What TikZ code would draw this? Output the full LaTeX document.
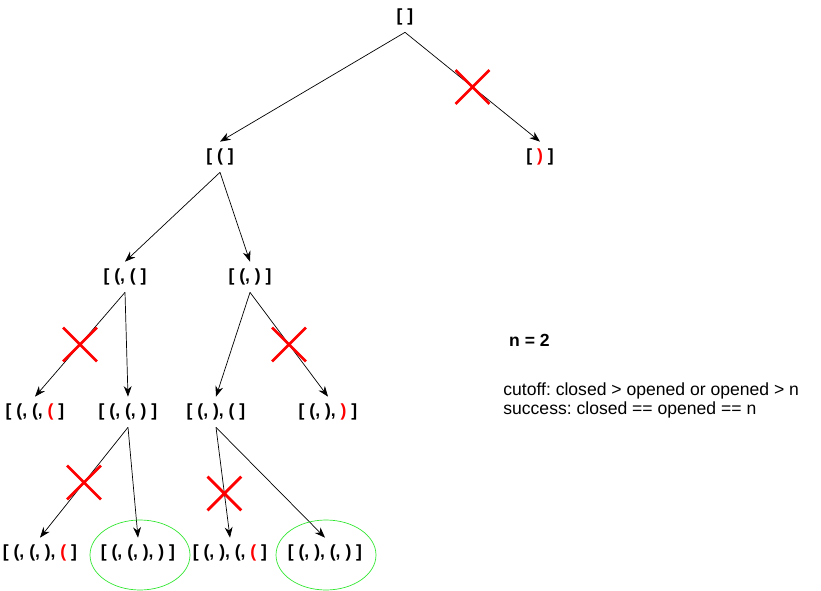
\documentclass[tikz,border=0pt]{standalone}
\usepackage{fontspec}
\setmainfont{Liberation Sans}
\usetikzlibrary{arrows.meta,shapes.misc,shapes.geometric}

\newcommand{\rd}[1]{\textcolor{red}{#1}}
\definecolor{okgreen}{RGB}{51,230,51}

\begin{document}
\frenchspacing
\begin{tikzpicture}[x=0.02cm,y=-0.02cm,
  st/.style={font=\fontsize{10}{12}\selectfont\bfseries, minimum height=0.6cm, inner sep=0pt},
  arr/.style={-{Stealth[length=6pt,width=4.5pt]}},
  cut/.style={cross out, draw=red, line width=1.6pt, minimum size=0.62cm, inner sep=0pt},
  okring/.style={ellipse, draw=okgreen, minimum width=2cm, minimum height=1.4cm}]
  \useasboundingbox (0,0) rectangle (821,591);

  % stari
  \node[st] (r) at (405,17) {[ ]};
  \node[st] (o) at (220,157) {[ ( ]};
  \node[st] (c) at (540,157) {[ \rd{)} ]};
  \node[st] (oo) at (125,277) {[ (, ( ]};
  \node[st] (oc) at (250,277) {[ (, ) ]};
  \node[st] (ooo) at (35,412) {[ (, (, \rd{(} ]};
  \node[st] (ooc) at (128,412) {[ (, (, ) ]};
  \node[st] (oco) at (216,412) {[ (, ), ( ]};
  \node[st] (occ) at (328,412) {[ (, ), \rd{)} ]};
  \node[st] (ooco) at (40,553) {[ (, (, ), \rd{(} ]};
  \node[st] (oocc) at (138,553) {[ (, (, ), ) ]};
  \node[st] (ocoo) at (230,553) {[ (, ), (, \rd{(} ]};
  \node[st] (ococ) at (325,553) {[ (, ), (, ) ]};

  % muchii
  \draw[arr] (r.south) -- (o.north);
  \draw[arr] (r.south) -- node[cut]{} (c.north);
  \draw[arr] (o.south) -- (oo.north);
  \draw[arr] (o.south) -- (oc.north);
  \draw[arr] (oo.south) -- node[cut]{} (ooo.north);
  \draw[arr] (oo.south) -- (ooc.north);
  \draw[arr] (oc.south) -- (oco.north);
  \draw[arr] (oc.south) -- node[cut]{} (occ.north);
  \draw[arr] (ooc.south) -- node[cut]{} (ooco.north);
  \draw[arr] (ooc.south) -- (oocc.north);
  \draw[arr] (oco.south) -- node[cut,pos=0.6]{} (ocoo.north);
  \draw[arr] (oco.south) -- (ococ.north);

  % solutii
  \node[okring] (s1) at (140,555) {};
  \node[okring] (s2) at (326,555) {};

  % reguli
  \node[anchor=west, font=\fontsize{10}{12}\selectfont\bfseries] (n) at (503,340) {n = 2};
  \node[anchor=north west, align=left, inner sep=0pt, font=\fontsize{10}{11.3}\selectfont] (rule) at (503,382)
    {cutoff: closed > opened or opened > n\\success: closed == opened == n};
\end{tikzpicture}
\end{document}
